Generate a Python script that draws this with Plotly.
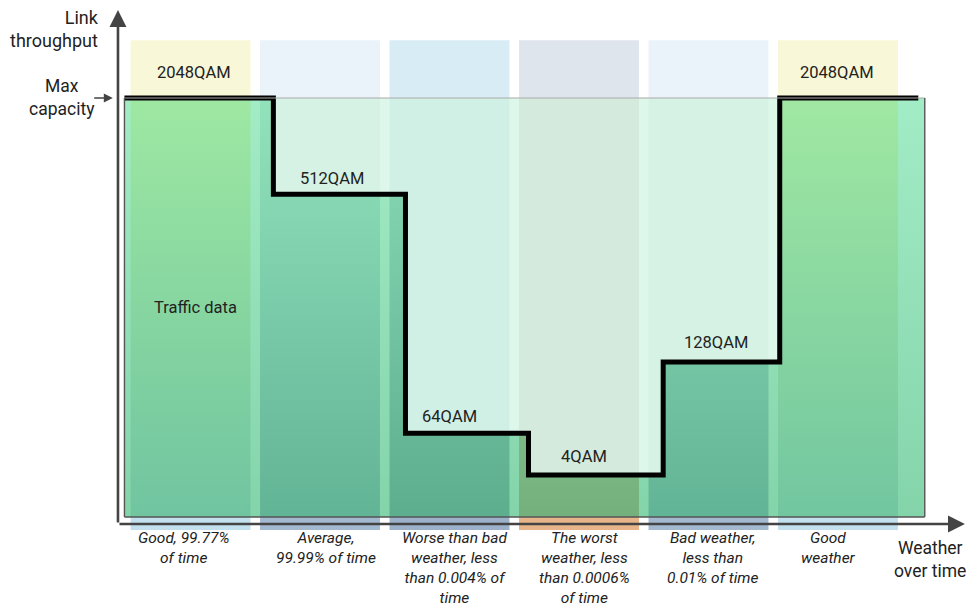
import numpy as np
import plotly.graph_objects as go

# ---- data -------------------------------------------------------------
periods = [
    "Good, 99.77%<br>of time",
    "Average,<br>99.99% of time",
    "Worse than bad<br>weather, less<br>than 0.004% of<br>time",
    "The worst<br>weather, less<br>than 0.0006%<br>of time",
    "Bad weather,<br>less than<br>0.01% of time",
    "Good<br>weather",
]
modulations = ["2048QAM", "512QAM", "64QAM", "4QAM", "128QAM", "2048QAM"]
throughput = [100, 77, 20, 10, 37, 100]          # % of max capacity
switch_times = [0.64, 1.66, 2.61, 3.65, 4.55]    # modulation changes (period units)
t_start, t_end = -0.51, 5.62                      # span of the throughput trace
area_left, area_right = -0.51, 5.67               # traffic data area

# ---- styling ----------------------------------------------------------
FONT = "Roboto, Arial, sans-serif"
TEXT = "#222222"
band_half = 0.463
header_top, strip_bottom = 113.8, -3.1
header_colors = ["#f8f8d8", "#eaf3fa", "#d8ecf6", "#dfe5ec", "#eaf3fa", "#f8f8d8"]
strip_colors = ["#c2e0ee", "#a3b9d0", "#9cb2ca", "#e8b48a", "#a3b9d0", "#c2e0ee"]
upper_colors = ["#d8f4e2", "#d6f2e4", "#d0f0e6", "#d4eadc", "#d6f2e4", "#d8f4e2"]
lower_colors = [("#70c4a0", "#9ee8a2"), ("#62b496", "#92e2bc"), ("#5cae8e", "#8cdcb8"),
                ("#74b07c", "#a6dcb0"), ("#62b496", "#92e2bc"), ("#72c6a0", "#a0e8a2")]
gap_upper = "#ddf7ea"
gap_lower = ("#84d4aa", "#a2ecc6")
label_xshift = [3, 12, 0, 5, 7, -1]
label_yshift = [14, 4, 5, 7, 8, 14]
period_xshift = [-7, 6, 5, 5, 4, -10]


def level_at(x):
    return throughput[int(np.searchsorted(switch_times, x, side="right"))]


def lower_outline(a, b):
    """Polygon of the region under the throughput step between a and b."""
    xs, ys = [a, a], [0, level_at(a)]
    for k, t in enumerate(switch_times):
        if a < t < b:
            xs += [t, t]
            ys += [throughput[k], throughput[k + 1]]
    xs += [b, b, a]
    ys += [level_at(b), 0, 0]
    return xs, ys


def grad(c0, c1):
    return dict(type="vertical", colorscale=[[0, c0], [1, c1]], start=0, stop=100)


fig = go.Figure()
shapes = []

# capacity area background (above the throughput line)
shapes.append(dict(type="rect", layer="below", x0=area_left, x1=area_right, y0=0, y1=100,
                   fillcolor=gap_upper, line_width=0))

for i in range(len(periods)):
    x0, x1 = i - band_half, i + band_half
    shapes.append(dict(type="rect", layer="below", x0=x0, x1=x1, y0=100, y1=header_top,
                       fillcolor=header_colors[i], line_width=0))
    shapes.append(dict(type="rect", layer="below", x0=x0, x1=x1, y0=strip_bottom, y1=0,
                       fillcolor=strip_colors[i], line_width=0))
    shapes.append(dict(type="rect", layer="below", x0=x0, x1=x1, y0=0, y1=100,
                       fillcolor=upper_colors[i], line_width=0))

# traffic data under the throughput line
gx, gy = lower_outline(area_left, area_right)
fig.add_trace(go.Scatter(x=gx, y=gy, mode="lines", line_width=0, fill="toself",
                         fillgradient=grad(*gap_lower), hoverinfo="skip", showlegend=False))
for i in range(len(periods)):
    bx, by = lower_outline(i - band_half, i + band_half)
    fig.add_trace(go.Scatter(x=bx, y=by, mode="lines", line_width=0, fill="toself",
                             fillgradient=grad(*lower_colors[i]), hoverinfo="skip",
                             showlegend=False))

# border of the traffic data area
shapes.append(dict(type="line", x0=area_left, x1=area_right, y0=100, y1=100,
                   line=dict(color="#aaaaaa", width=1.2)))
for (xa, ya, xb, yb) in [(area_left, 0, area_left, 100), (area_left, 0, area_right, 0),
                         (area_right, 0, area_right, 100)]:
    shapes.append(dict(type="line", x0=xa, x1=xb, y0=ya, y1=yb,
                       line=dict(color="#555555", width=1.4)))

# throughput step line
sx = [t_start] + switch_times + [t_end]
sy = throughput + [throughput[-1]]
fig.add_trace(go.Scatter(x=sx, y=sy, mode="lines", line=dict(color="#000000", width=5, shape="hv"),
                         hoverinfo="skip", showlegend=False))

ann = []
for i, (m, v) in enumerate(zip(modulations, throughput)):
    ann.append(dict(x=i, y=v, text=m, showarrow=False, yanchor="bottom",
                    xshift=label_xshift[i], yshift=label_yshift[i],
                    font=dict(family=FONT, size=16.5, color=TEXT)))
for i, p in enumerate(periods):
    ann.append(dict(x=i, y=-2.3, text=p, showarrow=False, yanchor="top",
                    xshift=period_xshift[i], align="center",
                    font=dict(family=FONT, size=15.5, color=TEXT, style="italic")))
ann.append(dict(x=0.04, y=50, text="Traffic data", showarrow=False,
                font=dict(family=FONT, size=16.5, color=TEXT)))

# axes arrows
axis_x, axis_y = -0.56, -1.67
ann.append(dict(x=axis_x, y=121.0, ax=axis_x, ay=axis_y, axref="x", ayref="y", text="",
                showarrow=True, arrowhead=2, arrowsize=1.3, arrowwidth=2.6, arrowcolor="#444444",
                standoff=0))
ann.append(dict(x=5.98, y=axis_y, ax=axis_x, ay=axis_y, axref="x", ayref="y", text="",
                showarrow=True, arrowhead=2, arrowsize=1.3, arrowwidth=2.6, arrowcolor="#444444",
                standoff=0))
ann.append(dict(x=-0.60, y=100, ax=-0.755, ay=100, axref="x", ayref="y", text="",
                showarrow=True, arrowhead=2, arrowsize=1.2, arrowwidth=1.5, arrowcolor="#444444",
                standoff=0))

ann.append(dict(x=-0.69, y=122.3, text="Link<br>throughput", showarrow=False, xanchor="right",
                yanchor="top", align="right", font=dict(family=FONT, size=18, color=TEXT)))
ann.append(dict(x=-0.99, y=100.2, text="Max<br>capacity", showarrow=False, xanchor="center",
                yanchor="middle", align="center", font=dict(family=FONT, size=17.5, color=TEXT)))
ann.append(dict(x=5.71, y=-4.53, text="Weather<br>over time", showarrow=False, xanchor="center",
                yanchor="top", align="center", font=dict(family=FONT, size=17.5, color=TEXT)))

fig.update_layout(
    width=971, height=608, margin=dict(l=0, r=0, t=0, b=0),
    paper_bgcolor="white", plot_bgcolor="white",
    shapes=shapes, annotations=ann, showlegend=False,
    xaxis=dict(range=[-1.471, 6.027], visible=False, fixedrange=True),
    yaxis=dict(range=[-21.72, 123.39], visible=False, fixedrange=True),
)

fig.write_html("out.html")
